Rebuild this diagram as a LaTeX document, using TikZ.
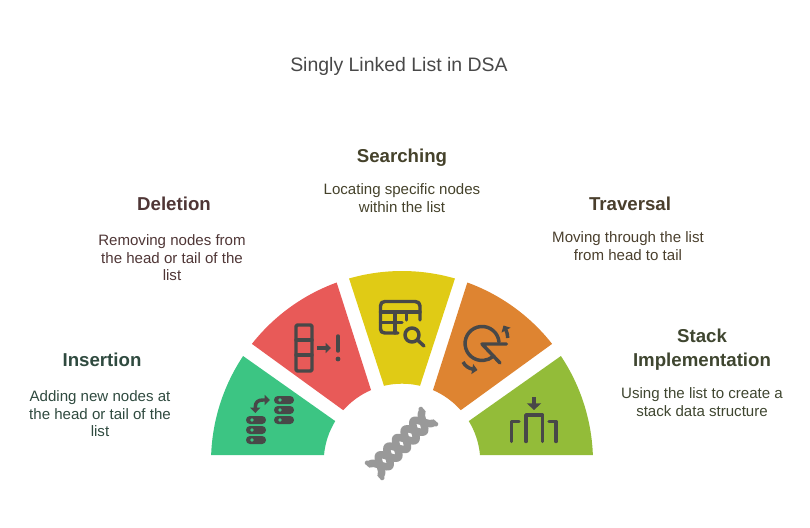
\documentclass[tikz,border=0pt]{standalone}
\usepackage{fontspec}
\setmainfont{Liberation Sans}
\usetikzlibrary{positioning,arrows.meta}
\definecolor{wedgegreen}{HTML}{3CC583}
\definecolor{wedgered}{HTML}{E85A58}
\definecolor{wedgeyellow}{HTML}{E0CB15}
\definecolor{wedgeorange}{HTML}{DE8431}
\definecolor{wedgelime}{HTML}{93BC39}
\definecolor{icongrey}{HTML}{484848}
\definecolor{chaingrey}{HTML}{999999}
\definecolor{insertink}{HTML}{2F4A3F}
\definecolor{deleteink}{HTML}{4F3636}
\definecolor{searchink}{HTML}{45422B}
\definecolor{traverseink}{HTML}{4A3F2D}
\definecolor{stackink}{HTML}{3F4630}
\tikzset{
  heading/.style={font=\fontsize{14}{18}\selectfont\bfseries, align=center, inner sep=0pt, anchor=base},
  bodytext/.style={font=\fontsize{11.3}{13.4}\selectfont, align=center, inner sep=0pt},
  iconline/.style={draw=icongrey, line width=2.6pt, line cap=round, line join=round},
  icontip/.style={-{Triangle[length=4pt,width=7.5pt]}},
  chainline/.style={draw=chaingrey, line width=5.6pt, line cap=round}
}
\newcommand{\wedgepart}[5]{\fill[#1] ([shift={(hub)}]#2:191 and -191) arc[start angle=#2, end angle=#3, x radius=191, y radius=-191] -- ([shift={(hub)}]#4:78.3 and -78.3) arc[start angle=#4, end angle=#5, x radius=78.3, y radius=-78.3] -- cycle;}
\newcommand{\pillrow}[2]{\fill[icongrey, rounded corners=2.9pt] (#1,#2-4) rectangle (#1+20,#2+4); \fill[wedgegreen] (#1+6,#2) circle[radius=1.8];}
\begin{document}
\begin{tikzpicture}[x=0.75pt,y=-0.75pt]
\useasboundingbox (0,0) rectangle (810,528);
\coordinate (hub) at (402,462);

\wedgepart{wedgegreen}{177.9}{146.3}{148.5}{174.9}
\wedgepart{wedgered}{141.8}{110}{113.3}{138.6}
\wedgepart{wedgeyellow}{106.1}{73.9}{76.7}{103.3}
\wedgepart{wedgeorange}{70}{38.2}{41.4}{66.7}
\wedgepart{wedgelime}{33.7}{2.1}{5.1}{31.5}

\node (title) at (399,66) [font=\fontsize{14.6}{18}\selectfont, text=icongrey, inner sep=0pt] {Singly Linked List in DSA};

\node (inserthead) at (102,366) [heading, text=insertink] {Insertion};
\node (inserttext) [bodytext, below=18pt of inserthead.base, text=insertink, xshift=-1.5pt] {Adding new nodes at\\the head or tail of the\\list};
\node (deletehead) at (174,210) [heading, text=deleteink] {Deletion};
\node (deletetext) [bodytext, below=18pt of deletehead.base, text=deleteink, xshift=-1.5pt] {Removing nodes from\\the head or tail of the\\list};
\node (searchhead) at (402,162) [heading, text=searchink] {Searching};
\node (searchtext) [bodytext, below=16.25pt of searchhead.base, text=searchink] {Locating specific nodes\\within the list};
\node (traversehead) at (630,210) [heading, text=traverseink] {Traversal};
\node (traversetext) [bodytext, below=16.25pt of traversehead.base, text=traverseink, xshift=-1.5pt] {Moving through the list\\from head to tail};
\node (stackhead) at (702,366) [heading, text=stackink] {Stack\\Implementation};
\node (stacktext) [bodytext, below=16.25pt of stackhead.base, text=stackink] {Using the list to create a\\stack data structure};

\pillrow{274}{400}
\pillrow{274}{410}
\pillrow{274}{420}
\pillrow{246}{420}
\pillrow{246}{430}
\pillrow{246}{440}
\draw[iconline, line cap=butt, {Triangle[length=4pt,width=7.5pt]}-{Triangle[length=4pt,width=7.5pt]}] (255.3,413) -- (255.3,407) .. controls (255.3,402) and (258,400) .. (263,400) -- (270,400);

\draw[iconline, rounded corners=1pt] (296,325) rectangle (312,371);
\draw[iconline] (296,340) -- (312,340);
\draw[iconline] (296,355) -- (312,355);
\draw[iconline, line cap=butt, icontip] (317,348) -- (331,348);
\draw[iconline] (338,336) -- (338,351);
\fill[icongrey] (338,359) circle[radius=2.4];

\draw[iconline] (398,333) -- (385,333) .. controls (382,333) and (380.5,331.5) .. (380.5,329) -- (380.5,306) .. controls (380.5,303) and (382,301.5) .. (385,301.5) -- (415,301.5) .. controls (418,301.5) and (420,303) .. (420,306) -- (420,320);
\draw[iconline] (380.5,312) -- (420,312);
\draw[iconline] (380.5,322.5) -- (402,322.5);
\draw[iconline] (395,312) -- (395,333);
\draw[iconline] (406.5,312) -- (406.5,320);
\draw[iconline] (412,335) circle[radius=7];
\draw[iconline] (417.5,340) -- (424,346);

\draw[iconline] (499,342) arc[start angle=5, end angle=312, x radius=17, y radius=-17];
\draw[iconline] (506.5,344) -- (482,344) -- (500,363);
\draw[iconline, line cap=butt, icontip] (507.7,338) .. controls (507.5,334) and (506.5,331) .. (503.5,325.5);
\draw[iconline, line cap=butt, icontip] (463,362) .. controls (465,366) and (469,368.5) .. (477.5,370);

\draw[iconline] (526,441.5) -- (526,415) -- (542.5,415) -- (542.5,441.5);
\draw[iconline] (511.5,441.5) -- (511.5,421.5) -- (519,421.5);
\draw[iconline] (556,441.5) -- (556,421.5) -- (549,421.5);
\draw[iconline, line cap=butt, -{Triangle[length=5pt,width=10.5pt]}] (534,397) -- (534,410);

\begin{scope}[shift={(401.5,443.5)}, rotate=45]
\draw[chainline] plot[domain=-36.5:36.5, samples=70, smooth] (\x,{7.5*cos(\x*14.75)});
\draw[chainline] plot[domain=-36.5:36.5, samples=70, smooth] (\x,{-7.5*cos(\x*14.75)});
\draw[chainline, line width=3.6pt] (-36.5,7.5) -- (-38,10.6);
\draw[chainline, line width=3.6pt] (-36.5,-7.5) -- (-38,-10.6);
\draw[chainline, line width=3.6pt] (36.5,7.5) -- (38,10.6);
\draw[chainline, line width=3.6pt] (36.5,-7.5) -- (38,-10.6);
\end{scope}
\end{tikzpicture}
\end{document}
